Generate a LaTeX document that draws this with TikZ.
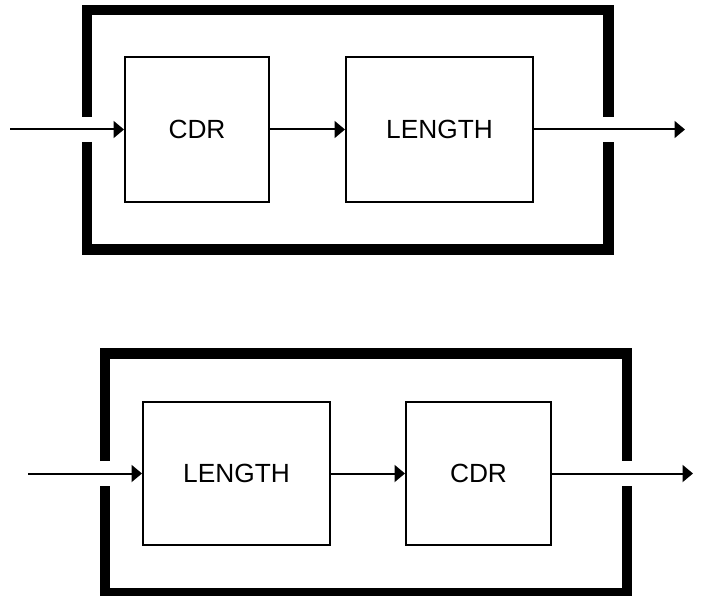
\documentclass[tikz,border=0pt]{standalone}
\usepackage{fontspec}
\setmainfont{Liberation Sans}
\usetikzlibrary{arrows.meta}
\begin{document}
\begin{tikzpicture}[x=1pt,y=-1pt,
  frame/.style={line width=10.5pt, line join=miter, line cap=butt},
  block/.style={draw, line width=2pt, inner sep=0pt, font=\fontsize{26.3}{31}\selectfont},
  flow/.style={line width=2pt, -{Triangle[length=10.5pt,width=17pt]}}]
\useasboundingbox (0,0) rectangle (701,596);
% top diagram
\draw[frame] (87,117) -- (87,10) -- (608.5,10) -- (608.5,117);
\draw[frame] (87,142) -- (87,249.5) -- (608.5,249.5) -- (608.5,142);
\node[block, minimum width=144pt, minimum height=145pt] (cdrA) at (197,129.5) {CDR};
\node[block, minimum width=187pt, minimum height=145pt] (lenA) at (439.5,129.5) {LENGTH};
\coordinate (inA) at (10,129.5);
\coordinate (outA) at (685,129.5);
\draw[flow] (inA) -- (cdrA.west);
\draw[flow] (cdrA.east) -- (lenA.west);
\draw[flow] (lenA.east) -- (outA);
% bottom diagram
\draw[frame] (105,461) -- (105,353.5) -- (627,353.5) -- (627,461);
\draw[frame] (105,486) -- (105,593) -- (627,593) -- (627,486);
\node[block, minimum width=187pt, minimum height=143pt] (lenB) at (236.5,473.5) {LENGTH};
\node[block, minimum width=145pt, minimum height=143pt] (cdrB) at (478.5,473.5) {CDR};
\coordinate (inB) at (28,473.5);
\coordinate (outB) at (693,473.5);
\draw[flow] (inB) -- (lenB.west);
\draw[flow] (lenB.east) -- (cdrB.west);
\draw[flow] (cdrB.east) -- (outB);
\end{tikzpicture}
\end{document}
